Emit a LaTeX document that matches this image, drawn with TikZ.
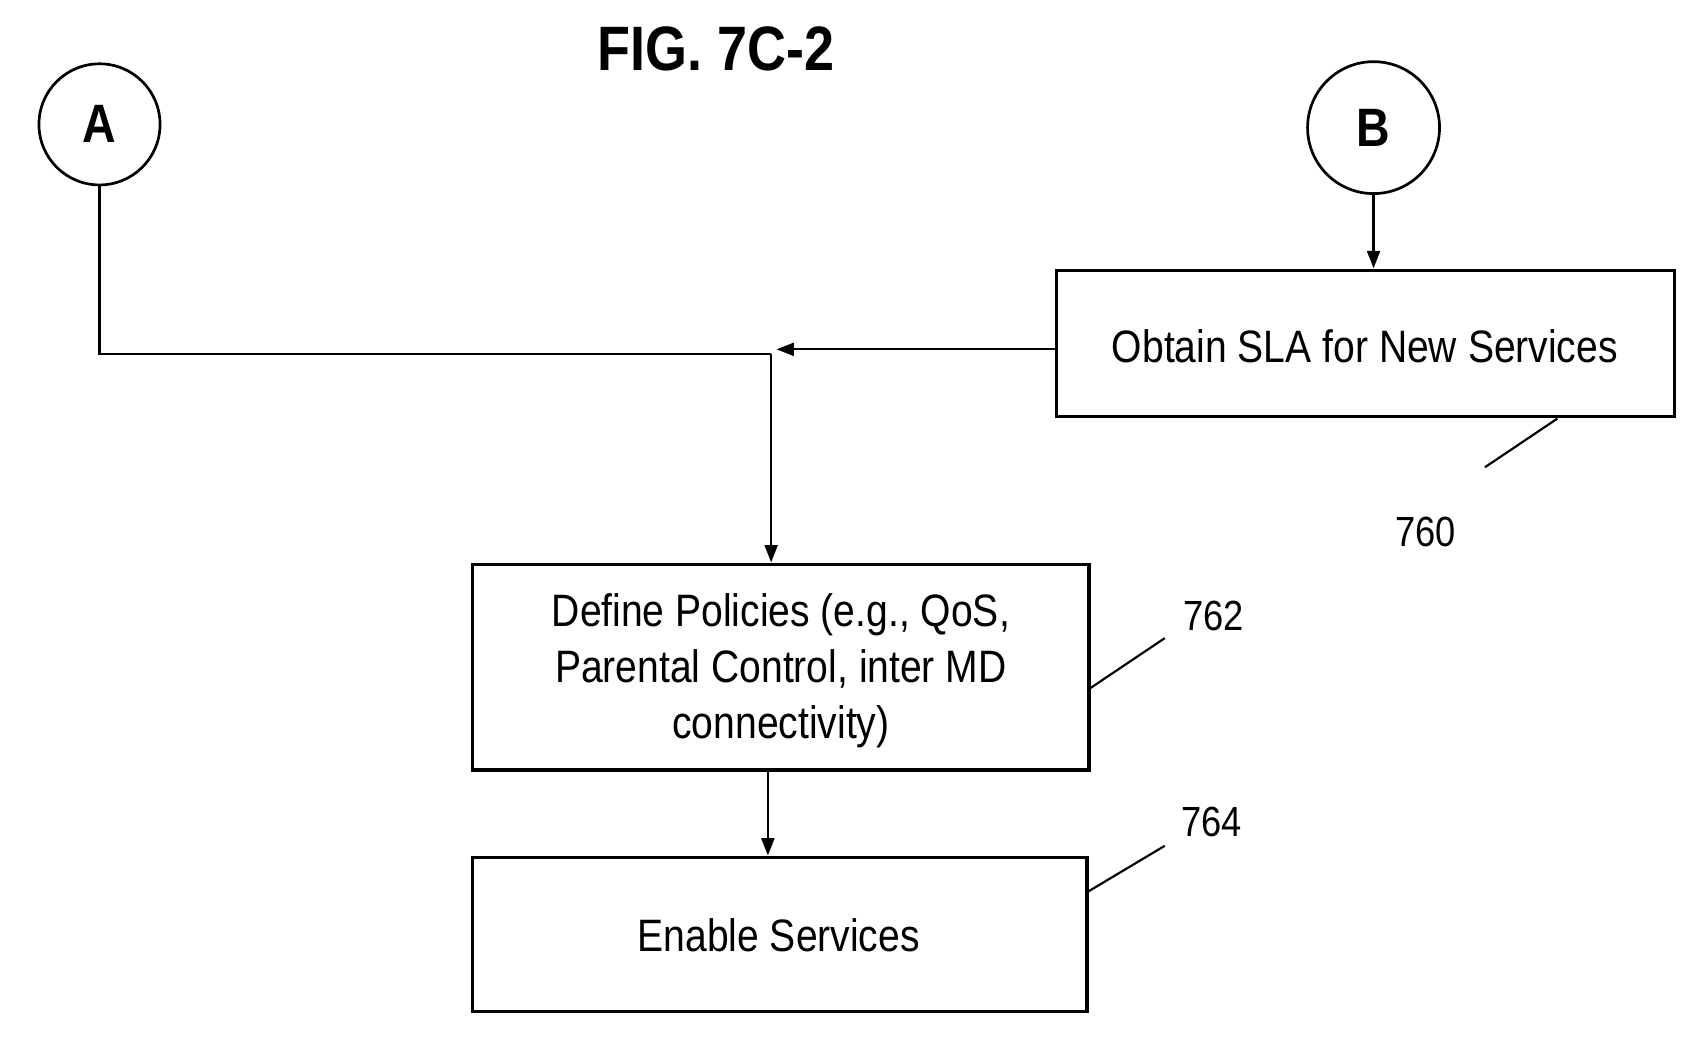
\documentclass[tikz,border=0pt]{standalone}
\usepackage{fontspec}
\setmainfont{Liberation Sans}
\newfontfamily\condfont[FakeStretch=0.86]{Liberation Sans}
\usetikzlibrary{arrows.meta}
\begin{document}
\begin{tikzpicture}[x=1pt,y=-1pt,
 box/.style={draw,line width=3pt,inner sep=0pt},
 conn/.style={line width=2pt},
 arr/.style={conn,-{Triangle[length=16pt,width=12pt]}},
 circ/.style={draw,circle,line width=2.5pt,minimum size=112pt,inner sep=0pt,font=\fontsize{50}{54}\condfont\bfseries},
 txt/.style={font=\fontsize{42}{52}\condfont,align=center},
 lbl/.style={font=\fontsize{39}{40}\condfont}]
\useasboundingbox (0,0) rectangle (1570,958);
\node[font=\fontsize{58}{62}\condfont\bfseries] (title) at (662,45) {FIG. 7C-2};
\node[circ] (A) at (92,115) {A};
\node[circ,minimum size=122pt] (B) at (1270,118) {B};
\draw[box] (977,250) rectangle (1548,385);
\node[txt] (sla) at (1262,320) {Obtain SLA for New Services};
\coordinate (slaL) at (977,323);
\coordinate (slaT) at (1270,248);
\draw[box] (437,522) rectangle (1007,712);
\node[txt] (pol) at (722,620) {Define Policies (e.g., QoS,\\Parental Control, inter MD\\connectivity)};
\draw[box] (437,793) rectangle (1005,935);
\node[txt] (en) at (720,865) {Enable Services};
\coordinate (j) at (713,327);
\coordinate (polT) at (713,520);
\draw[conn] (A.south) |- (j);
\draw[arr] (slaL) -- (718,323);
\draw[arr] (j) -- (polT);
\draw[arr] (B.south) -- (slaT);
\draw[arr] (710,712) -- (710,791);
\node[lbl] (l760) at (1318,492) {760};
\node[lbl] (l762) at (1122,570) {762};
\node[lbl] (l764) at (1120,760) {764};
\draw[conn] (1440,387) -- (1373,432);
\draw[conn] (1007,637) -- (1077,590);
\draw[conn] (1005,825) -- (1077,782);
\end{tikzpicture}
\end{document}
